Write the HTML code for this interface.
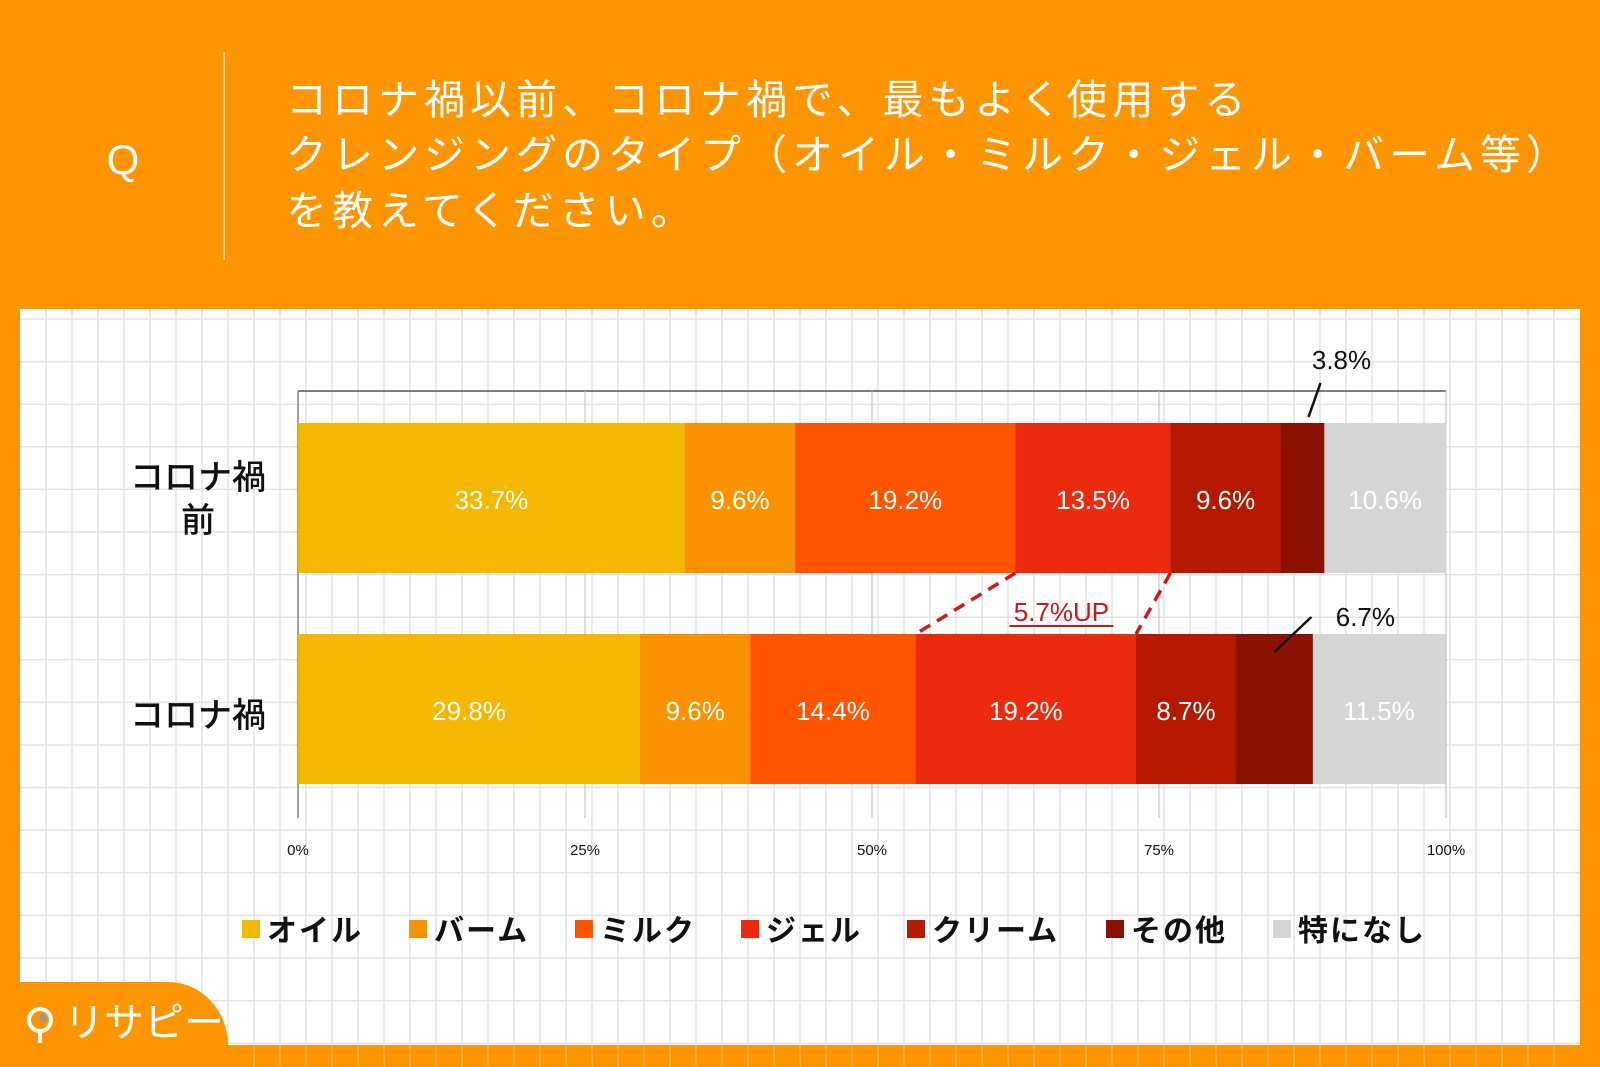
<!DOCTYPE html>
<html><head><meta charset="utf-8">
<style>
html,body{margin:0;padding:0;}
body{width:1600px;height:1067px;background:#FD9500;position:relative;overflow:hidden;font-family:"Liberation Sans","Noto Sans CJK JP",sans-serif;}
svg{position:absolute;left:0;top:0;}
</style></head>
<body>
<svg id="chart" width="1600" height="1067" xmlns="http://www.w3.org/2000/svg">
  <rect x="0" y="0" width="1600" height="1067" fill="#FD9500"/>
  <g id="grid-bottom"></g>
  <rect x="20" y="309" width="1560" height="736" fill="#ffffff"/>
  <g id="grid"></g>
  <text x="123" y="174" font-size="42" fill="#fff" text-anchor="middle">Q</text>
  <line x1="224" y1="52" x2="224" y2="260" stroke="#FFE6B8" stroke-width="1.5"/>
  <g font-size="41" fill="#fff" letter-spacing="5" font-family="'Noto Sans CJK JP',sans-serif">
    <text x="286" y="114">コロナ禍以前、コロナ禍で、最もよく使用する</text>
    <text x="286" y="169">クレンジングのタイプ（オイル・ミルク・ジェル・バーム等）</text>
    <text x="286" y="225">を教えてください。</text>
  </g>
  <g id="plot"></g>
  <g font-size="34" fill="#111" font-weight="500" text-anchor="middle" font-family="'Noto Sans CJK JP',sans-serif">
    <text x="198" y="489">コロナ禍</text>
    <text x="198" y="532">前</text>
    <text x="198" y="727">コロナ禍</text>
  </g>
  <g id="legend"></g>
  <path d="M20 982 L168 982 A60 63 0 0 1 228 1045 L228 1067 L20 1067 Z" fill="#FD9500"/>
  <g>
    <circle cx="40" cy="1020" r="11" fill="none" stroke="#fff" stroke-width="4"/>
    <line x1="40" y1="1031" x2="40" y2="1043" stroke="#fff" stroke-width="4"/>
    <path d="M40 1020 L40 1013 A7 7 0 0 1 46 1023 Z" fill="#999"/>
    <text x="64" y="1036" font-size="40" fill="#fff" font-family="'Noto Sans CJK JP',sans-serif">リサピー</text>
  </g>
</svg>
<script>
const categories = ['コロナ禍前', 'コロナ禍'];
const seriesNames = ['オイル', 'バーム', 'ミルク', 'ジェル', 'クリーム', 'その他', '特になし'];
const seriesColors = ['#F5B800', '#FA9200', '#FF5500', '#EE2A0E', '#B51A00', '#8A1100', '#D5D5D5'];
const valuesBefore = [33.7, 9.6, 19.2, 13.5, 9.6, 3.8, 10.6];
const valuesDuring = [29.8, 9.6, 14.4, 19.2, 8.7, 6.7, 11.5];
const tickValues = [0, 25, 50, 75, 100];
const tickLabels = ['0%', '25%', '50%', '75%', '100%'];

const NS = 'http://www.w3.org/2000/svg';
function mk(tag, attrs, parent){const e=document.createElementNS(NS,tag);for(const k in attrs)e.setAttribute(k,attrs[k]);parent.appendChild(e);return e;}
const X0=298, X1=1446;
function xs(v){return X0+(X1-X0)*v/100;}
const barTops=[423,634], barH=150;

const grid=document.getElementById('grid');
for(let x=46;x<1580;x+=26){const l=mk('line',{x1:x,y1:309,x2:x,y2:1045,stroke:'#e3e3e3','stroke-width':1.5},grid);

}
for(let y=319;y<1045;y+=42.6){const l=mk('line',{x1:20,y1:y,x2:1580,y2:y,stroke:'#e3e3e3','stroke-width':1.5},grid);

}
const gb=document.getElementById('grid-bottom');
for(let x=254;x<1580;x+=26){const l=mk('line',{x1:x,y1:1045,x2:x,y2:1067,stroke:'#FFB24a','stroke-width':1.5},gb);

}

const plot=document.getElementById('plot');
let a=mk('line',{x1:X0,y1:391,x2:X0,y2:818,stroke:'#111','stroke-width':1.5},plot);


a=mk('line',{x1:X0,y1:391,x2:X1,y2:391,stroke:'#333','stroke-width':1.2},plot);


a=mk('line',{x1:X1,y1:391,x2:X1,y2:818,stroke:'#999','stroke-width':1},plot);


tickValues.forEach((v,i)=>{
  const vl=mk('line',{x1:xs(v),y1:391,x2:xs(v),y2:818,stroke:'#bbb','stroke-width':1},plot);
  
  
  const t=mk('text',{x:xs(v),y:855,'font-size':15,fill:'#111','text-anchor':'middle'},plot);
  t.textContent=tickLabels[i];
  
  
});
[valuesBefore,valuesDuring].forEach((vals,bi)=>{
  let cum=0;
  vals.forEach((v,si)=>{
    const r=mk('rect',{x:xs(cum),y:barTops[bi],width:xs(cum+v)-xs(cum)+0.5,height:barH,fill:seriesColors[si]},plot);
    
    
    if(si!==5){
      const t=mk('text',{x:(xs(cum)+xs(cum+v))/2,y:barTops[bi]+barH/2+11,'font-size':26,fill:'#fff','text-anchor':'middle'},plot);
      t.textContent=v.toFixed(1)+'%';
      
      
    }
    cum+=v;
  });
});
function sumTo(arr,n){let s=0;for(let i=0;i<n;i++)s+=arr[i];return s;}
const c1=(xs(sumTo(valuesBefore,5))+xs(sumTo(valuesBefore,6)))/2;
let l=mk('line',{x1:c1+18,y1:383,x2:c1+6,y2:417,stroke:'#111','stroke-width':2.5},plot);


let t=mk('text',{x:c1+39,y:369,'font-size':26,fill:'#111','text-anchor':'middle'},plot);
t.textContent=valuesBefore[5].toFixed(1)+'%';


const c2=(xs(sumTo(valuesDuring,5))+xs(sumTo(valuesDuring,6)))/2;
l=mk('line',{x1:c2+37,y1:617,x2:c2,y2:652,stroke:'#111','stroke-width':2.5},plot);


t=mk('text',{x:c2+91,y:626,'font-size':26,fill:'#111','text-anchor':'middle'},plot);
t.textContent=valuesDuring[5].toFixed(1)+'%';


const jb0=xs(sumTo(valuesBefore,3)), jb1=xs(sumTo(valuesBefore,4));
const jd0=xs(sumTo(valuesDuring,3)), jd1=xs(sumTo(valuesDuring,4));
[[jb0,jd0],[jb1,jd1]].forEach(p=>{
  const d=mk('line',{x1:p[0],y1:barTops[0]+barH,x2:p[1],y2:barTops[1],stroke:'#D01818','stroke-width':3.5,'stroke-dasharray':'12 8'},plot);
  
  
});
const diff=(valuesDuring[3]-valuesBefore[3]).toFixed(1);
const ux=(jb0+jb1+jd0+jd1)/4+2;
t=mk('text',{x:ux,y:621,'font-size':26,fill:'#C81818','text-anchor':'middle'},plot);
t.textContent=diff+'%UP';


l=mk('line',{x1:ux-52,y1:626,x2:ux+52,y2:626,stroke:'#C81818','stroke-width':2},plot);


const legend=document.getElementById('legend');
const legX=[242,409,575,741,907,1106,1273];
seriesNames.forEach((n,i)=>{
  const g=mk('g',{},legend);
  
  
  mk('rect',{x:legX[i],y:920,width:18,height:18,fill:seriesColors[i]},g);
  const tx=mk('text',{x:legX[i]+25,y:941,'font-size':30,'font-weight':'bold',fill:'#111','letter-spacing':2,'font-family':"'Noto Sans CJK JP',sans-serif"},g);
  tx.textContent=n;
});
</script>
</body></html>
